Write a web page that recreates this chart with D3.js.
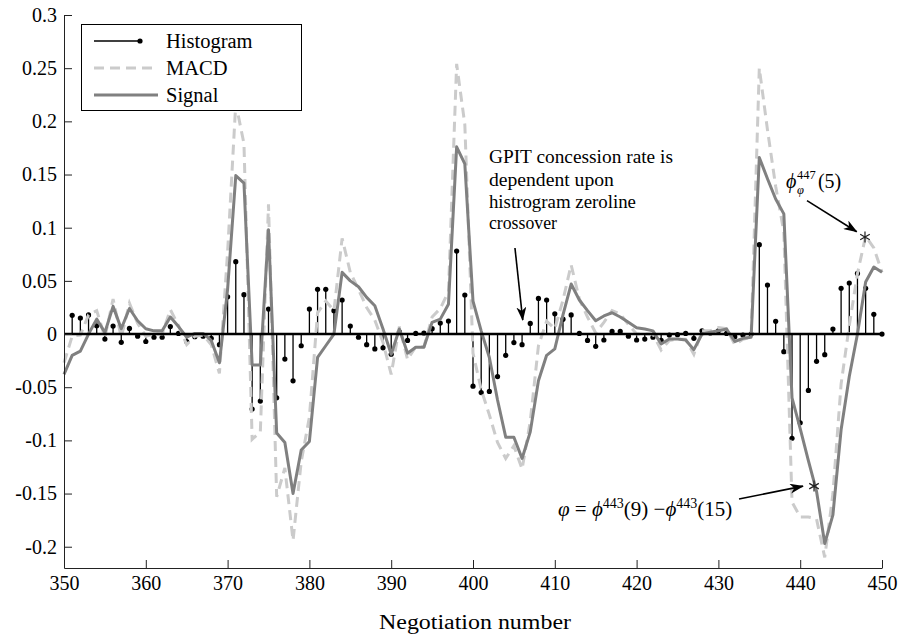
<!DOCTYPE html>
<html>
<head>
<meta charset="utf-8">
<script src="https://cdn.jsdelivr.net/npm/d3@7"></script>
<style>
  body { margin: 0; background: #fff; }
  svg text { font-family: "Liberation Serif", "Times New Roman", serif; fill: #000; }
</style>
</head>
<body>
<div id="chart"></div>
<script>
// negotiation numbers 350..450
const negotiation = d3.range(350, 451);

// histogram = MACD - signal (read off the stems), no stem at 350
const histogram = [
  null, 0.0176, 0.015, 0.018, 0.0078, -0.0047, 0.0075, -0.0078, 0.0053, -0.002,
  -0.007, -0.003, -0.003, 0.007, 0.0006, -0.007, -0.0025, -0.002, -0.004, -0.010,
  0.035, 0.068, 0.037, -0.0706, -0.063, 0.0235, -0.060, -0.0235, -0.044, -0.011,
  0.0235, 0.042, 0.042, 0.022, 0.032, 0.0075, -0.003, -0.010, -0.014, -0.013,
  -0.019, 0.002, -0.006, 0.0006, 0.001, 0.005, 0.0103, 0.0122, 0.078, 0.0367,
  -0.049, -0.055, -0.054, -0.040, -0.020, -0.008, -0.010, 0.010, 0.0335, 0.032,
  0.019, 0.014, 0.018, 0.0006, -0.006, -0.0116, -0.0056, 0.0025, 0.0025, -0.002,
  -0.0056, -0.0047, -0.003, -0.006, -0.001, -0.0006, 0.0006, -0.004, 0.003, 0.001,
  0.003, 0.0006, -0.0025, -0.001, 0.0, 0.084, 0.046, 0.012, -0.0166, -0.098,
  -0.0834, -0.053, -0.0257, -0.0194, 0.0047, 0.043, 0.048, 0.057, 0.043, 0.0185,
  0.0
];

const macd = [
  -0.027, -0.002, -0.001, 0.018, 0.022, -0.003, 0.033, -0.003, 0.029, 0.010,
  -0.002, 0.000, 0.000, 0.023, 0.008, -0.010, -0.002, -0.001, -0.010, -0.037,
  0.077, 0.217, 0.179, -0.099, -0.092, 0.122, -0.153, -0.126, -0.194, -0.120,
  -0.078, 0.020, 0.031, 0.022, 0.090, 0.058, 0.042, 0.025, 0.013, -0.008,
  -0.038, 0.007, -0.024, -0.012, -0.012, 0.016, 0.024, 0.040, 0.254, 0.197,
  -0.018, -0.052, -0.076, -0.102, -0.117, -0.105, -0.127, -0.082, -0.011, 0.012,
  0.005, 0.032, 0.065, 0.033, 0.016, 0.001, 0.011, 0.022, 0.019, 0.009,
  0.000, 0.000, 0.000, -0.015, -0.006, -0.005, -0.005, -0.019, 0.003, 0.003,
  0.006, 0.005, -0.010, -0.005, -0.003, 0.250, 0.192, 0.139, 0.096, -0.158,
  -0.172, -0.172, -0.174, -0.210, -0.150, -0.047, 0.008, 0.057, 0.092, 0.081,
  0.058
];

const signal = [
  -0.038, -0.020, -0.016, 0.000, 0.014, 0.0015, 0.026, 0.005, 0.024, 0.0125,
  0.005, 0.003, 0.003, 0.016, 0.007, -0.003, 0.0006, 0.0006, -0.006, -0.027,
  0.042, 0.149, 0.142, -0.029, -0.029, 0.098, -0.093, -0.102, -0.150, -0.109,
  -0.101, -0.022, -0.011, 0.000, 0.058, 0.050, 0.0445, 0.0345, 0.0266, 0.0047,
  -0.019, 0.0047, -0.018, -0.0125, -0.0125, 0.011, 0.014, 0.028, 0.176, 0.160,
  0.031, 0.003, -0.022, -0.062, -0.097, -0.097, -0.117, -0.092, -0.044, -0.020,
  -0.014, 0.018, 0.047, 0.032, 0.022, 0.0125, 0.017, 0.020, 0.016, 0.011,
  0.006, 0.0047, 0.003, -0.0094, -0.0047, -0.0047, -0.0056, -0.0147, 0.000, 0.0016,
  0.003, 0.0047, -0.007, -0.004, -0.003, 0.166, 0.146, 0.127, 0.113, -0.060,
  -0.089, -0.119, -0.148, -0.197, -0.170, -0.090, -0.040, 0.000, 0.049, 0.063,
  0.058
];

const xTicks = [350, 360, 370, 380, 390, 400, 410, 420, 430, 440, 450];
const yTicks = [-0.2, -0.15, -0.1, -0.05, 0, 0.05, 0.1, 0.15, 0.2, 0.25, 0.3];
const seriesNames = ["Histogram", "MACD", "Signal"];

const width = 898, height = 635;

const svg = d3.select("#chart")
  .append("svg")
  .attr("width", width)
  .attr("height", height);

const x = d3.scaleLinear().domain([350, 450]).range([64, 882]);
const y = d3.scaleLinear().domain([-0.22, 0.3]).range([568, 15]);

// histogram stems
const stems = svg.append("g")
  .selectAll("g")
  .data(negotiation.map((n, i) => ({ n, v: histogram[i] })).filter((d) => d.v !== null))
  .join("g");

stems.append("line")
  .attr("x1", (d) => x(d.n))
  .attr("x2", (d) => x(d.n))
  .attr("y1", y(0))
  .attr("y2", (d) => y(d.v))
  .attr("stroke", "#000")
  .attr("stroke-width", 1.3);

stems.append("circle")
  .attr("cx", (d) => x(d.n))
  .attr("cy", (d) => y(d.v))
  .attr("r", 2.6)
  .attr("fill", "#000");

// MACD and signal lines
const line = d3.line()
  .x((d, i) => x(negotiation[i]))
  .y((d) => y(d));

svg.append("path")
  .datum(macd)
  .attr("d", line)
  .attr("fill", "none")
  .attr("stroke", "#cbcbcb")
  .attr("stroke-width", 3)
  .attr("stroke-dasharray", "10,6");

svg.append("path")
  .datum(signal)
  .attr("d", line)
  .attr("fill", "none")
  .attr("stroke", "#808080")
  .attr("stroke-width", 3)
  .attr("stroke-linejoin", "round");

// stem baseline
svg.append("line")
  .attr("x1", x(350))
  .attr("x2", x(450))
  .attr("y1", y(0))
  .attr("y2", y(0))
  .attr("stroke", "#000")
  .attr("stroke-width", 2.5);

// axes, ticks pointing inward
const xAxis = svg.append("g")
  .attr("transform", `translate(0,${y(-0.22)})`)
  .call(d3.axisBottom(x).tickValues(xTicks).tickSize(-8).tickSizeOuter(0).tickPadding(8));

const yAxis = svg.append("g")
  .attr("transform", `translate(${x(350)},0)`)
  .call(d3.axisLeft(y).tickValues(yTicks).tickSize(-8).tickSizeOuter(0).tickPadding(7)
    .tickFormat((d) => String(d)));

[xAxis, yAxis].forEach((a) => {
  a.attr("font-family", null);
  a.select(".domain").attr("stroke", "#222");
  a.selectAll(".tick line").attr("stroke", "#222");
  a.selectAll(".tick text").attr("font-size", 20);
});

svg.append("text")
  .attr("x", 475)
  .attr("y", 629)
  .attr("text-anchor", "middle")
  .attr("font-size", 20)
  .attr("textLength", 192)
  .attr("lengthAdjust", "spacingAndGlyphs")
  .text("Negotiation number");

// legend
const legend = svg.append("g");
legend.append("rect")
  .attr("x", 81.5).attr("y", 24.5)
  .attr("width", 220).attr("height", 86)
  .attr("fill", "#fff")
  .attr("stroke", "#000")
  .attr("stroke-width", 1);

const legendRows = [
  { name: seriesNames[0], ly: 41, ty: 47.5 },
  { name: seriesNames[1], ly: 68, ty: 75 },
  { name: seriesNames[2], ly: 95, ty: 102 }
];

legend.append("line")
  .attr("x1", 94).attr("x2", 140)
  .attr("y1", legendRows[0].ly).attr("y2", legendRows[0].ly)
  .attr("stroke", "#000").attr("stroke-width", 1.5);
legend.append("circle")
  .attr("cx", 140).attr("cy", legendRows[0].ly).attr("r", 2.6).attr("fill", "#000");
legend.append("line")
  .attr("x1", 94).attr("x2", 158)
  .attr("y1", legendRows[1].ly).attr("y2", legendRows[1].ly)
  .attr("stroke", "#cbcbcb").attr("stroke-width", 3).attr("stroke-dasharray", "10,6");
legend.append("line")
  .attr("x1", 94).attr("x2", 158)
  .attr("y1", legendRows[2].ly).attr("y2", legendRows[2].ly)
  .attr("stroke", "#808080").attr("stroke-width", 3);

legend.selectAll("text.lab")
  .data(legendRows)
  .join("text")
  .attr("class", "lab")
  .attr("x", 166)
  .attr("y", (d) => d.ty)
  .attr("font-size", 20.5)
  .text((d) => d.name);

// annotations
svg.append("defs").append("marker")
  .attr("id", "head")
  .attr("viewBox", "0 0 14 10")
  .attr("refX", 13).attr("refY", 5)
  .attr("markerWidth", 14).attr("markerHeight", 10)
  .attr("markerUnits", "userSpaceOnUse")
  .attr("orient", "auto")
  .append("path")
  .attr("d", "M0,0 L14,5 L0,10 L4,5 Z")
  .attr("fill", "#000");

const arrows = [
  { from: [405.13, 0.0809], to: [406.08, 0.0132] },
  { from: [440.83, 0.1255], to: [446.91, 0.0962] },
  { from: [432.52, -0.1552], to: [440.34, -0.1430] }
];

svg.append("g")
  .selectAll("line")
  .data(arrows)
  .join("line")
  .attr("x1", (d) => x(d.from[0])).attr("y1", (d) => y(d.from[1]))
  .attr("x2", (d) => x(d.to[0])).attr("y2", (d) => y(d.to[1]))
  .attr("stroke", "#000")
  .attr("stroke-width", 1.6)
  .attr("marker-end", "url(#head)");

// asterisks at the annotated points
const stars = [[447.92, 0.0912], [441.69, -0.1430]];
const starPath = "M0,-5.5V5.5M-4.8,-2.75L4.8,2.75M-4.8,2.75L4.8,-2.75";
svg.append("g")
  .selectAll("path")
  .data(stars)
  .join("path")
  .attr("transform", (d) => `translate(${x(d[0])},${y(d[1])})`)
  .attr("d", starPath)
  .attr("stroke", "#222")
  .attr("stroke-width", 1.2)
  .attr("fill", "none");

const noteLines = [
  { t: "GPIT concession rate is", w: 184, dy: 0 },
  { t: "dependent upon", w: 125, dy: 22.5 },
  { t: "histrogram zeroline", w: 147, dy: 45 },
  { t: "crossover", w: 68, dy: 65.5 }
];
const noteX = x(401.95), noteY = y(0.1604);
svg.append("g")
  .selectAll("text")
  .data(noteLines)
  .join("text")
  .attr("x", noteX)
  .attr("y", (d) => noteY + d.dy)
  .attr("font-size", 18.5)
  .attr("textLength", (d) => d.w)
  .attr("lengthAdjust", "spacingAndGlyphs")
  .text((d) => d.t);

// phi^447_varphi (5)
const phiX = x(438.26), phiY = y(0.1373);
const phiLabel = svg.append("text").attr("x", phiX).attr("y", phiY).attr("font-size", 20);
phiLabel.append("tspan").attr("font-style", "italic").text("ϕ");
phiLabel.append("tspan").attr("x", phiX + 11).attr("dy", -9).attr("font-size", 12.5).text("447");
phiLabel.append("tspan").attr("x", phiX + 11).attr("dy", 15).attr("font-size", 12.5)
  .attr("font-style", "italic").text("φ");
phiLabel.append("tspan").attr("x", phiX + 32).attr("dy", -6).text("(5)");

// varphi = phi^443(9) - phi^443(15)
const eqX = x(410.39), eqY = y(-0.1711);
const eqLabel = svg.append("text").attr("x", eqX).attr("y", eqY).attr("font-size", 21);
eqLabel.append("tspan").attr("font-style", "italic").text("φ");
eqLabel.append("tspan").text(" = ");
eqLabel.append("tspan").attr("font-style", "italic").text("ϕ");
eqLabel.append("tspan").attr("font-size", 14).attr("dy", -8).text("443");
eqLabel.append("tspan").attr("dy", 8).text("(9) −");
eqLabel.append("tspan").attr("font-style", "italic").text("ϕ");
eqLabel.append("tspan").attr("font-size", 14).attr("dy", -8).text("443");
eqLabel.append("tspan").attr("dy", 8).text("(15)");
</script>
</body>
</html>
